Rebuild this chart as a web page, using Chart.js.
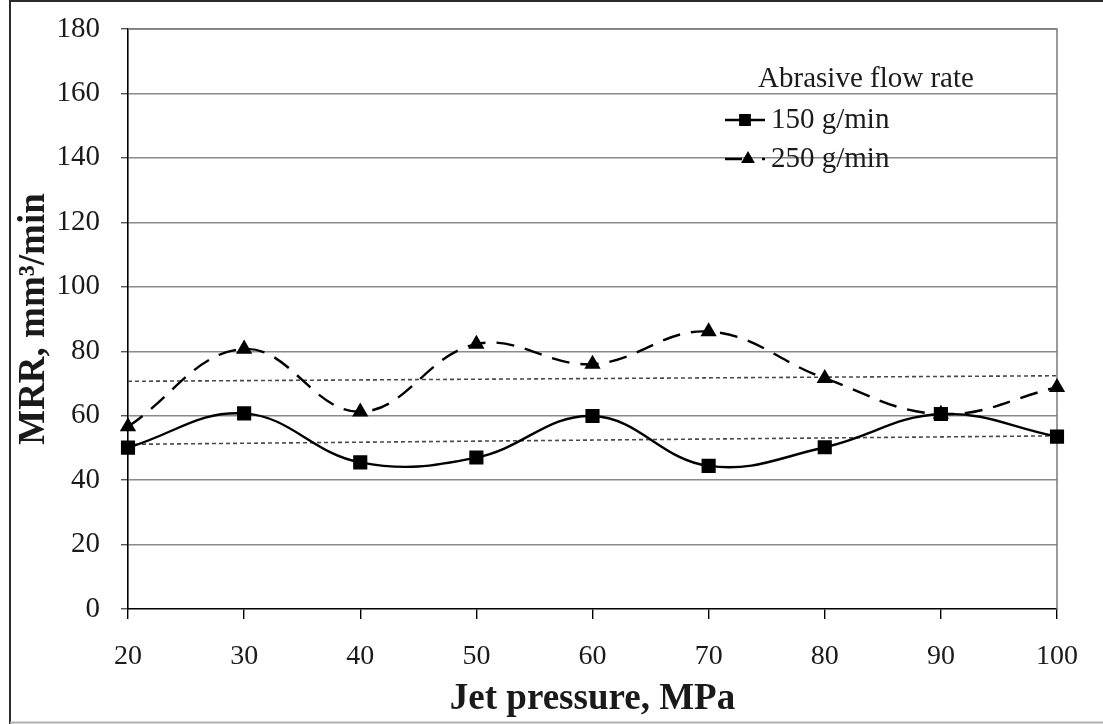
<!DOCTYPE html>
<html>
<head>
<meta charset="utf-8">
<script src="https://cdn.jsdelivr.net/npm/chart.js@4.4.1/dist/chart.umd.min.js"></script>
<style>
  html, body { margin: 0; padding: 0; background: #fff; }
  #wrap { position: relative; width: 1103px; height: 724px; }
</style>
</head>
<body>
<div id="wrap"><canvas id="chart"></canvas></div>
<script>
// Jet pressure (MPa) on the x axis
const pressure = [20, 30, 40, 50, 60, 70, 80, 90, 100];
// Material removal rate (mm³/min) for each abrasive flow rate
const mrr150 = [50.1, 60.7, 45.5, 47.0, 59.9, 44.4, 50.2, 60.5, 53.5];
const mrr250 = [56.6, 80.7, 61.2, 82.2, 76.0, 86.1, 71.6, 60.5, 68.8];
// Axis tick values
const xTicks = [20, 30, 40, 50, 60, 70, 80, 90, 100];
const yTicks = [0, 20, 40, 60, 80, 100, 120, 140, 160, 180];
// Text
const seriesNames = ['150 g/min', '250 g/min'];
const legendTitle = 'Abrasive flow rate';
const xTitle = 'Jet pressure, MPa';
const yTitle = 'MRR, mm\u00B3/min';

const SERIF = "'Liberation Serif', 'Times New Roman', serif";

function toPoints(xs, ys) {
  return xs.map((x, i) => ({ x: x, y: ys[i] }));
}

// Least-squares straight line through a series, returned as its two end points
function linearTrend(xs, ys) {
  const n = xs.length;
  const mx = xs.reduce((a, b) => a + b, 0) / n;
  const my = ys.reduce((a, b) => a + b, 0) / n;
  let sxy = 0, sxx = 0;
  for (let i = 0; i < n; i++) {
    sxy += (xs[i] - mx) * (ys[i] - my);
    sxx += (xs[i] - mx) * (xs[i] - mx);
  }
  const slope = sxy / sxx;
  const x0 = xs[0], x1 = xs[n - 1];
  return [{ x: x0, y: my + slope * (x0 - mx) }, { x: x1, y: my + slope * (x1 - mx) }];
}

// White page, outer frame and the plot-area box
const framePlugin = {
  id: 'frame',
  beforeDraw(chart) {
    const ctx = chart.ctx;
    ctx.save();
    ctx.fillStyle = '#fff';
    ctx.fillRect(0, 0, chart.width, chart.height);
    ctx.restore();
  },
  beforeDatasetsDraw(chart) {
    const { ctx, chartArea: a } = chart;
    ctx.save();
    ctx.strokeStyle = '#7a7a7a';
    ctx.lineWidth = 1.5;
    ctx.beginPath();
    ctx.moveTo(a.left, a.top);
    ctx.lineTo(a.right, a.top);
    ctx.lineTo(a.right, a.bottom);
    ctx.stroke();
    ctx.restore();
  },
  afterDraw(chart) {
    const ctx = chart.ctx;
    ctx.save();
    ctx.strokeStyle = '#2a2a2a';
    ctx.lineWidth = 2;
    ctx.beginPath();
    ctx.moveTo(10, 724);
    ctx.lineTo(10, 1);
    ctx.lineTo(1103, 1);
    ctx.stroke();
    ctx.strokeStyle = '#b0b0b0';
    ctx.lineWidth = 2;
    ctx.beginPath();
    ctx.moveTo(10, 722.5);
    ctx.lineTo(1103, 722.5);
    ctx.stroke();
    ctx.restore();
  }
};

// Legend drawn inside the plot area with no background
const insideLegend = {
  id: 'insideLegend',
  afterDatasetsDraw(chart, args, opts) {
    const ctx = chart.ctx;
    ctx.save();
    ctx.fillStyle = '#1a1a1a';
    ctx.font = opts.fontSize + 'px ' + SERIF;
    ctx.textBaseline = 'middle';
    ctx.textAlign = 'center';
    ctx.fillText(legendTitle, opts.titleX, opts.titleY);
    ctx.textAlign = 'left';
    opts.rows.forEach((row, i) => {
      const ds = chart.data.datasets[i];
      ctx.save();
      ctx.strokeStyle = ds.borderColor;
      ctx.lineWidth = ds.borderWidth;
      ctx.setLineDash(row.dash || []);
      ctx.beginPath();
      ctx.moveTo(opts.lineX0, row.y);
      ctx.lineTo(opts.lineX1, row.y);
      ctx.stroke();
      ctx.setLineDash([]);
      ctx.fillStyle = ds.pointBackgroundColor;
      ctx.strokeStyle = ds.pointBorderColor;
      Chart.helpers.drawPoint(ctx, {
        pointStyle: ds.pointStyle,
        radius: ds.pointRadius * 0.8,
        rotation: 0,
        borderWidth: 1
      }, row.markerX, row.y);
      ctx.restore();
      ctx.fillText(seriesNames[i], opts.textX, row.y);
    });
    ctx.restore();
  }
};

const ctx = document.getElementById('chart').getContext('2d');
new Chart(ctx, {
  type: 'line',
  data: {
    datasets: [
      {
        label: seriesNames[0],
        data: toPoints(pressure, mrr150),
        borderColor: '#000',
        borderWidth: 2.4,
        tension: 0.4,
        pointStyle: 'rect',
        pointRadius: 8.3,
        pointBackgroundColor: '#000',
        pointBorderColor: '#000',
        clip: false
      },
      {
        label: seriesNames[1],
        data: toPoints(pressure, mrr250),
        borderColor: '#000',
        borderWidth: 2.4,
        borderDash: [18, 11],
        tension: 0.4,
        pointStyle: 'triangle',
        pointRadius: 7,
        pointBackgroundColor: '#000',
        pointBorderColor: '#000',
        clip: false
      },
      {
        label: 'trend150',
        data: linearTrend(pressure, mrr150),
        borderColor: '#4a4a4a',
        borderWidth: 1.6,
        borderDash: [4, 3],
        pointRadius: 0,
        tension: 0
      },
      {
        label: 'trend250',
        data: linearTrend(pressure, mrr250),
        borderColor: '#4a4a4a',
        borderWidth: 1.6,
        borderDash: [4, 3],
        pointRadius: 0,
        tension: 0
      }
    ]
  },
  options: {
    responsive: true,
    maintainAspectRatio: false,
    animation: false,
    layout: { padding: { left: 0, top: 29, right: 46, bottom: 0 } },
    plugins: {
      legend: { display: false },
      tooltip: { enabled: false },
      insideLegend: {
        fontSize: 29,
        titleX: 866,
        titleY: 79,
        lineX0: 725,
        lineX1: 765,
        textX: 771,
        rows: [
          { y: 120, markerX: 745 },
          { y: 159, markerX: 748, dash: [17, 20] }
        ]
      }
    },
    scales: {
      x: {
        type: 'linear',
        min: 20,
        max: 100,
        afterBuildTicks: s => { s.ticks = xTicks.map(v => ({ value: v })); },
        afterFit: s => { s.height = 115; },
        border: { display: true, color: '#000', width: 1.6 },
        grid: {
          display: true,
          drawOnChartArea: false,
          drawTicks: true,
          tickLength: 10,
          color: '#000',
          lineWidth: 1.4
        },
        ticks: {
          padding: 21,
          color: '#1a1a1a',
          font: { family: SERIF, size: 28 },
          maxRotation: 0
        },
        title: {
          display: true,
          text: xTitle,
          color: '#1a1a1a',
          font: { family: SERIF, size: 37, weight: 'bold' },
          padding: { top: 0, bottom: 2 }
        }
      },
      y: {
        min: 0,
        max: 180,
        afterBuildTicks: s => { s.ticks = yTicks.map(v => ({ value: v })); },
        afterFit: s => { s.width = 128; s.paddingTop = 10; s.paddingBottom = 10; },
        border: { display: true, color: '#000', width: 1.6 },
        grid: {
          color: c => (c.tick && c.tick.value === 0) ? 'rgba(0,0,0,0)' : '#8a8a8a',
          lineWidth: 1.4,
          tickLength: 7,
          tickColor: '#555'
        },
        ticks: {
          padding: 21,
          color: '#1a1a1a',
          font: { family: SERIF, size: 29 }
        },
        title: {
          display: true,
          text: yTitle,
          color: '#1a1a1a',
          font: { family: SERIF, size: 37, weight: 'bold' },
          padding: { top: 12, bottom: 0 }
        }
      }
    }
  },
  plugins: [framePlugin, insideLegend]
});
</script>
</body>
</html>
